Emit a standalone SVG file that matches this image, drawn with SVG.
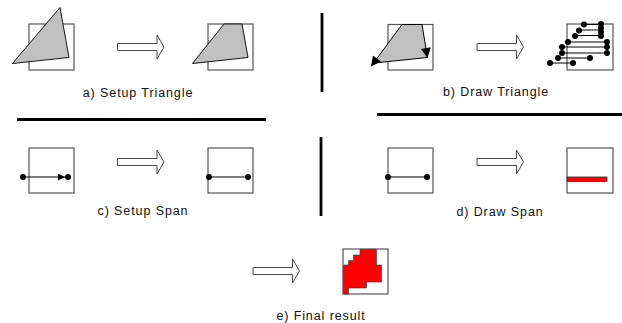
<svg xmlns="http://www.w3.org/2000/svg" width="622" height="323" viewBox="0 0 622 323">
<style>
.box{fill:none;stroke:#555;stroke-width:1.2}
.tri{fill:#c0c0c0;stroke:#000;stroke-width:0.9}
.arr{fill:#fff;stroke:#333;stroke-width:0.9}
.sep{stroke:#000;stroke-width:2.8}
.dot{fill:#000}
.ln{stroke:#000;stroke-width:1;fill:none}
.lbl{font-family:"Liberation Sans",Arial,sans-serif;font-size:12.5px;letter-spacing:0.9px;fill:#111;text-anchor:middle}
</style>
<defs>
<polygon id="bigArrow" class="arr" points="0,8.5 39.5,8.5 39.5,0 46.5,12 39.5,24 39.5,15.5 0,15.5"/>
<marker id="ah" viewBox="0 0 10 10" refX="10" refY="5" markerWidth="11" markerHeight="10" markerUnits="userSpaceOnUse" orient="auto">
<path d="M0,0 L10,5 L0,10 z" fill="#000"/>
</marker>
<marker id="ahs" viewBox="0 0 10 10" refX="10" refY="5" markerWidth="8" markerHeight="7" markerUnits="userSpaceOnUse" orient="auto">
<path d="M0,0 L10,5 L0,10 z" fill="#000"/>
</marker>
</defs>
<g id="separators">
<line class="sep" x1="17" y1="119.5" x2="266" y2="119.5"/>
<line class="sep" x1="377" y1="114.5" x2="622" y2="114.5"/>
<line class="sep" x1="322" y1="13" x2="322" y2="92"/>
<line class="sep" x1="321" y1="137" x2="321" y2="216"/>
</g>
<g id="connectors">
<use href="#bigArrow" x="117.5" y="35"/>
<use href="#bigArrow" x="477" y="35"/>
<use href="#bigArrow" x="117.5" y="150"/>
<use href="#bigArrow" x="477" y="150"/>
<use href="#bigArrow" x="253" y="259"/>
</g>
<g id="a-left">
<rect class="box" x="29" y="24" width="45" height="46"/>
<polygon class="tri" points="60,7.5 12.5,63.5 69,57.5"/>
</g>
<g id="a-right">
<rect class="box" x="208" y="24" width="45" height="46"/>
<polygon class="tri" points="224,24 242,24 248,57.5 192.5,63.5"/>
</g>
<text class="lbl" x="138" y="97">a) Setup Triangle</text>
<g id="b-left">
<rect class="box" x="388" y="24.5" width="45" height="45.5"/>
<polygon fill="#c0c0c0" points="402,24.5 422,24.5 427.5,57.5 374,63"/>
<line class="ln" x1="374" y1="63" x2="427.5" y2="57.5"/>
<line class="ln" x1="402" y1="24.5" x2="422" y2="24.5" stroke-width="1.5"/>
<line class="ln" x1="402" y1="24.5" x2="371" y2="66.5" marker-end="url(#ah)"/>
<line class="ln" x1="422" y1="24.5" x2="427.5" y2="58" marker-end="url(#ah)"/>
</g>
<g id="b-right">
<rect class="box" x="567" y="24" width="46" height="46"/>
<g class="ln">
<line x1="584" y1="24.5" x2="601" y2="24.5"/>
<line x1="579" y1="30" x2="601" y2="30"/>
<line x1="575" y1="35.5" x2="601" y2="35.5"/>
<line x1="568" y1="42" x2="607" y2="42"/>
<line x1="562" y1="47" x2="607" y2="47"/>
<line x1="562" y1="53" x2="607" y2="53"/>
<line x1="558" y1="58" x2="590" y2="58"/>
<line x1="550" y1="63" x2="573" y2="63"/>
</g>
<g class="dot">
<circle cx="584" cy="24.5" r="3"/><circle cx="601" cy="24" r="3"/>
<circle cx="601" cy="28" r="3"/><circle cx="601" cy="32" r="3"/><circle cx="601" cy="36" r="3"/>
<circle cx="579" cy="30.5" r="3"/><circle cx="575" cy="36" r="3"/>
<circle cx="568" cy="42" r="3"/><circle cx="607" cy="42" r="3"/>
<circle cx="607" cy="47" r="3"/><circle cx="607" cy="53" r="3"/>
<circle cx="562" cy="47" r="3"/><circle cx="562" cy="53" r="3"/>
<circle cx="558" cy="58" r="3"/><circle cx="590" cy="58" r="3"/>
<circle cx="550" cy="63" r="3"/><circle cx="573" cy="63" r="3"/>
</g>
</g>
<text class="lbl" x="496" y="96">b) Draw Triangle</text>
<g id="c-left">
<rect class="box" x="29" y="148" width="45" height="45"/>
<line class="ln" x1="23" y1="177" x2="65" y2="177" marker-end="url(#ahs)"/>
<circle class="dot" cx="23" cy="177" r="3"/>
<circle class="dot" cx="68" cy="177" r="3"/>
</g>
<g id="c-right">
<rect class="box" x="208" y="148" width="45" height="45"/>
<line class="ln" x1="209" y1="177" x2="248" y2="177"/>
<circle class="dot" cx="209" cy="177" r="3"/>
<circle class="dot" cx="248" cy="177" r="3"/>
</g>
<text class="lbl" x="143" y="215">c) Setup Span</text>
<g id="d-left">
<rect class="box" x="388" y="148" width="45" height="45"/>
<line class="ln" x1="388" y1="177" x2="427" y2="177"/>
<circle class="dot" cx="388" cy="177" r="3"/>
<circle class="dot" cx="427" cy="177" r="3"/>
</g>
<g id="d-right">
<rect class="box" x="567" y="148" width="46" height="45"/>
<rect x="567" y="177" width="40" height="4.5" fill="#ff0000" stroke="#333" stroke-width="0.8"/>
</g>
<text class="lbl" x="500" y="216">d) Draw Span</text>
<g id="e-result">
<rect class="box" x="343" y="249" width="45" height="45"/>
<polygon fill="#ff0000" stroke="#333" stroke-width="0.6" points="360,249.5 376.5,249.5 376.5,265 381.5,265 381.5,282 366.5,282 366.5,288 348.5,288 348.5,294 343.5,294 343.5,265 348.5,265 348.5,260.5 353.5,260.5 353.5,255 360,255"/>
</g>
<text class="lbl" x="321" y="320">e) Final result</text>
</svg>
